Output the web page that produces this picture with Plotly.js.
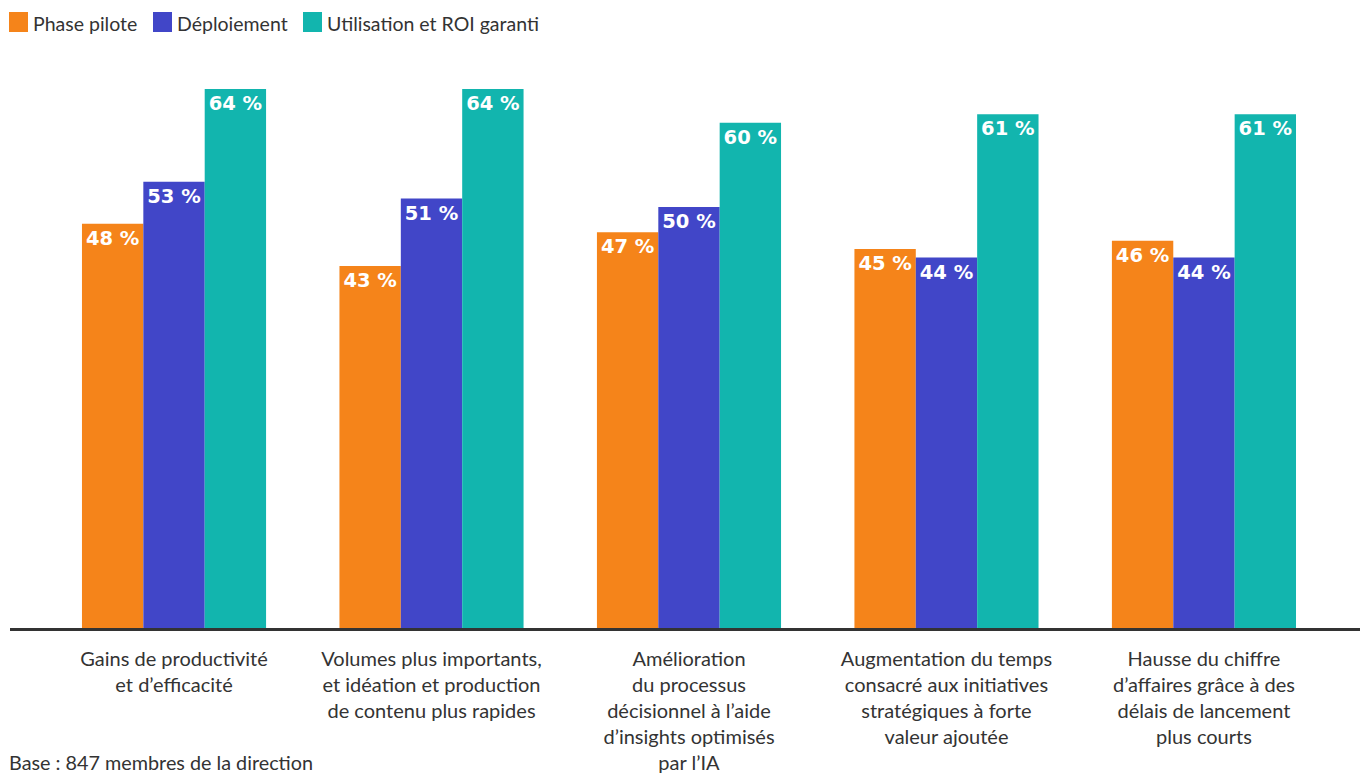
<!DOCTYPE html>
<html>
<head>
<meta charset="utf-8">
<script src="https://cdn.plot.ly/plotly-3.0.1.min.js"></script>
<style>html,body{margin:0;padding:0;background:#fff;}#chart{width:1360px;height:776px;}</style>
</head>
<body>
<div id="chart"></div>
<script>
const categories = [
  "Gains de productivité<br>et d’efficacité",
  "Volumes plus importants,<br>et idéation et production<br>de contenu plus rapides",
  "Amélioration<br>du processus<br>décisionnel à l’aide<br>d’insights optimisés<br>par l’IA",
  "Augmentation du temps<br>consacré aux initiatives<br>stratégiques à forte<br>valeur ajoutée",
  "Hausse du chiffre<br>d’affaires grâce à des<br>délais de lancement<br>plus courts"
];
const seriesNames = ["Phase pilote", "Déploiement", "Utilisation et ROI garanti"];
const phasePilote = [48, 43, 47, 45, 46];
const deploiement = [53, 51, 50, 44, 44];
const utilisationROI = [64, 64, 60, 61, 61];
const colors = ["#F5841A", "#4146C8", "#12B5AE"];
const footnote = "Base : 847 membres de la direction";

const font = "Lato, 'Open Sans', sans-serif";
const labelFont = "'DejaVu Sans', sans-serif";
const seriesValues = [phasePilote, deploiement, utilisationROI];
const xs = categories.map((_, i) => i);

const traces = seriesValues.map((vals, k) => ({
  type: "bar",
  name: seriesNames[k],
  x: xs,
  y: vals,
  marker: {color: colors[k], line: {width: 0}},
  text: vals.map(v => v + " %"),
  textposition: "inside",
  insidetextanchor: "end",
  textangle: 0,
  insidetextfont: {family: labelFont, size: 19.5, color: "#ffffff", weight: 700},
  constraintext: "none",
  cliponaxis: false,
  hoverinfo: "skip",
  showlegend: false
}));

// manual legend (pixel layout converted to paper coords)
const W = 1350, H = 548, L = 10, T = 80;
const legendX = [9, 153, 303];
const shapes = [], annotations = [];
seriesNames.forEach((n, k) => {
  const x0 = legendX[k];
  shapes.push({
    type: "rect", xref: "paper", yref: "paper",
    x0: (x0 - L) / W, x1: (x0 + 19 - L) / W,
    y0: (T + H - 32) / H, y1: (T + H - 12) / H,
    fillcolor: colors[k], line: {width: 0}
  });
  annotations.push({
    text: n, xref: "paper", yref: "paper",
    x: (x0 + 22 - L) / W, xanchor: "left",
    y: (T + H - 24) / H, yanchor: "middle",
    showarrow: false,
    font: {family: font, size: 19.5, color: "#333333"}
  });
});
annotations.push({
  text: footnote, xref: "paper", yref: "paper",
  x: (7 - L) / W, xanchor: "left",
  y: (T + H - 776) / H, yanchor: "bottom", showarrow: false,
  font: {family: font, size: 19.8, color: "#333333"}
});

const layout = {
  width: 1360, height: 776,
  margin: {l: L, r: 0, t: T, b: 776 - T - H},
  paper_bgcolor: "#fff", plot_bgcolor: "#fff",
  barmode: "group",
  bargap: 0.285,
  bargroupgap: 0,
  font: {family: font, color: "#333333"},
  showlegend: false,
  xaxis: {
    range: [-0.637, 4.606],
    tickvals: xs, ticktext: categories,
    tickfont: {family: font, size: 20, color: "#333333"},
    ticklabelstandoff: 11,
    showline: true, linecolor: "#333333", linewidth: 2.5,
    showgrid: false, zeroline: false, ticks: "", ticklen: 0,
    fixedrange: true
  },
  yaxis: {
    range: [0, 65.08], visible: false, showgrid: false, zeroline: false, fixedrange: true
  },
  shapes: shapes,
  annotations: annotations
};

Plotly.newPlot("chart", traces, layout, {displayModeBar: false, staticPlot: true});
</script>
</body>
</html>
